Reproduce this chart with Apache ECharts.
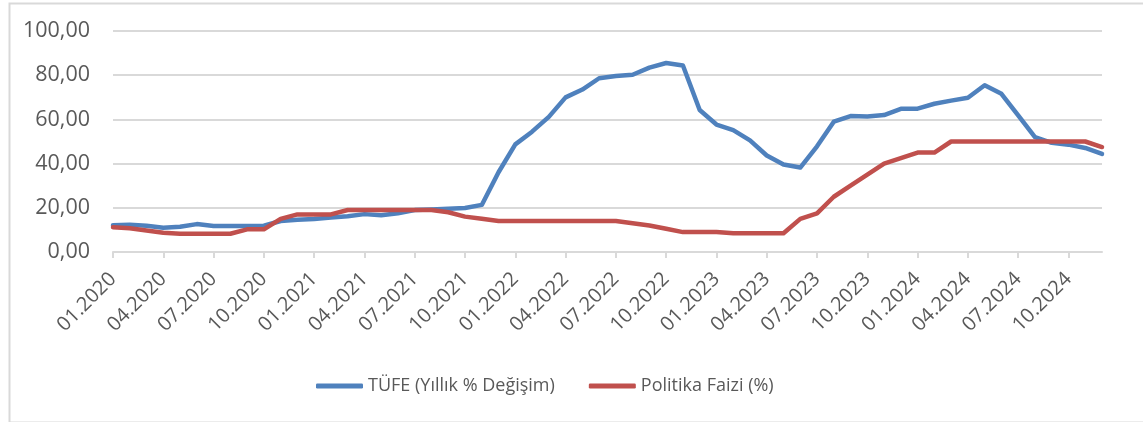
<!DOCTYPE html>
<html>
<head>
<meta charset="utf-8">
<script src="https://cdn.jsdelivr.net/npm/echarts@6/dist/echarts.min.js"></script>
<style>
html,body{margin:0;padding:0;background:#fff;}
#chart{width:1143px;height:422px;}
</style>
</head>
<body>
<div id="chart"></div>
<script>
const categories = [
 '01.2020','02.2020','03.2020','04.2020','05.2020','06.2020','07.2020','08.2020','09.2020','10.2020','11.2020','12.2020',
 '01.2021','02.2021','03.2021','04.2021','05.2021','06.2021','07.2021','08.2021','09.2021','10.2021','11.2021','12.2021',
 '01.2022','02.2022','03.2022','04.2022','05.2022','06.2022','07.2022','08.2022','09.2022','10.2022','11.2022','12.2022',
 '01.2023','02.2023','03.2023','04.2023','05.2023','06.2023','07.2023','08.2023','09.2023','10.2023','11.2023','12.2023',
 '01.2024','02.2024','03.2024','04.2024','05.2024','06.2024','07.2024','08.2024','09.2024','10.2024','11.2024','12.2024'
];
const tufe = [
 12.15,12.37,11.86,10.94,11.39,12.62,11.76,11.77,11.75,11.89,14.03,14.60,
 14.97,15.61,16.19,17.14,16.59,17.53,18.95,19.25,19.58,19.89,21.31,36.08,
 48.69,54.44,61.14,69.97,73.50,78.62,79.60,80.21,83.45,85.51,84.39,64.27,
 57.68,55.18,50.51,43.68,39.59,38.21,47.83,58.94,61.53,61.36,61.98,64.77,
 64.86,67.07,68.50,69.80,75.45,71.60,61.78,51.97,49.38,48.58,47.09,44.38
];
const politikaFaizi = [
 11.25,10.75,9.75,8.75,8.25,8.25,8.25,8.25,10.25,10.25,15,17,
 17,17,19,19,19,19,19,19,18,16,15,14,
 14,14,14,14,14,14,14,13,12,10.5,9,9,
 9,8.5,8.5,8.5,8.5,15,17.5,25,30,35,40,42.5,
 45,45,50,50,50,50,50,50,50,50,50,47.5
];
const seriesNames = ['TÜFE (Yıllık % Değişim)', 'Politika Faizi (%)'];
const yTicks = {min: 0, max: 100, interval: 20};

const FONT = '"Open Sans", sans-serif';
const chart = echarts.init(document.getElementById('chart'), null, {renderer: 'canvas'});
chart.setOption({
  animation: false,
  backgroundColor: '#ffffff',
  graphic: [{
    type: 'rect', left: 7, top: 1, silent: true,
    shape: {width: 1140, height: 419},
    style: {fill: 'none', stroke: '#d9d9d9', lineWidth: 2}
  }],
  grid: {left: 113, right: 41, top: 31, bottom: 170, containLabel: false},
  legend: {
    left: 311, top: 372,
    itemWidth: 47, itemHeight: 5, itemGap: 34,
    icon: 'roundRect',
    textStyle: {fontFamily: FONT, fontSize: 18, color: '#595959'},
    data: seriesNames
  },
  xAxis: {
    type: 'category', boundaryGap: false, data: categories,
    axisLine: {lineStyle: {color: '#d9d9d9', width: 2}},
    axisTick: {interval: 2, length: 6, lineStyle: {color: '#d9d9d9', width: 2}},
    axisLabel: {interval: 2, rotate: 45, margin: 24, fontFamily: FONT, fontSize: 20, color: '#595959'},
    splitLine: {show: false}
  },
  yAxis: {
    type: 'value', min: yTicks.min, max: yTicks.max, interval: yTicks.interval,
    axisLine: {show: false}, axisTick: {show: false},
    axisLabel: {margin: 23, fontFamily: FONT, fontSize: 21.5, color: '#595959',
      formatter: v => v.toFixed(2).replace('.', ',')},
    splitLine: {lineStyle: {color: '#d9d9d9', width: 2}}
  },
  series: [
    {name: seriesNames[0], type: 'line', data: tufe, symbol: 'none', smooth: false,
     color: '#4f81bd', lineStyle: {color: '#4f81bd', width: 4.5, cap: 'round', join: 'round'}, z: 3},
    {name: seriesNames[1], type: 'line', data: politikaFaizi, symbol: 'none', smooth: false,
     color: '#c0504d', lineStyle: {color: '#c0504d', width: 4.5, cap: 'round', join: 'round'}, z: 4}
  ]
});
</script>
</body>
</html>
